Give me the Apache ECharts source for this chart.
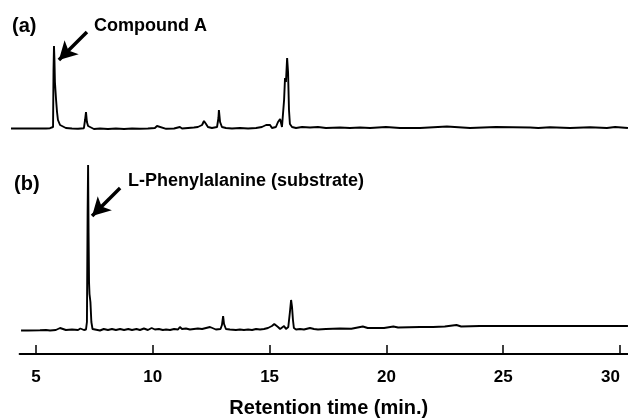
<!DOCTYPE html>
<html lang="en">
<head>
  <meta charset="UTF-8" />
  <title>Chromatograms</title>
  <script src="https://cdn.jsdelivr.net/npm/echarts@6/dist/echarts.min.js"></script>
  <style>
    body { margin: 0; padding: 0; background: #fff; }
    #main { width: 628px; height: 418px; }
  </style>
</head>
<body>
  <div id="main"></div>
  <script>
    // retention time (min) / detector response
    const traceA = [
      [3.93,1.5],[4.40,1.5],[4.91,1.5],[5.43,1.5],[5.60,1.8],[5.68,2],[5.73,3],[5.75,60],[5.77,84],[5.79,70],
      [5.81,48],[5.86,30],[5.90,18],[5.94,10],[6.03,5],[6.11,3],[6.28,2],[6.54,1.5],[6.80,1.2],[7.05,1.8],
      [7.10,10],[7.14,18],[7.18,8],[7.23,4],[7.31,2],[7.48,1],[7.74,1.5],[8.08,1],[8.42,1.5],[8.77,1],
      [9.11,1.5],[9.45,1.2],[9.79,1.5],[10.09,2],[10.18,4],[10.26,2],[10.57,1.2],[10.91,1.5],[11.16,3],[11.25,1.5],
      [11.51,2],[11.76,2.5],[11.93,3],[12.11,5],[12.19,9],[12.28,6],[12.36,3],[12.53,2],[12.75,3],[12.81,12],
      [12.83,20],[12.88,8],[12.96,3],[13.13,2],[13.39,1.5],[13.73,2],[14.08,1.5],[14.42,2],[14.67,3],[14.85,5],
      [14.93,6.5],[15.02,5],[15.10,2],[15.27,3],[15.36,8],[15.45,11],[15.53,3],[15.57,4],[15.62,30],[15.66,52],
      [15.70,48],[15.75,72],[15.79,58],[15.83,20],[15.87,6],[15.96,3],[16.13,2],[16.39,3],[16.73,2.5],[17.07,3],
      [17.41,2],[18.01,2.5],[18.44,2],[18.87,2.5],[19.30,2],[19.98,3],[20.58,2],[21.44,2],[22.59,3.5],[23.58,2],
      [24.69,3],[26.15,2.5],[26.5,2],[27.0,2.8],[27.86,2],[28.72,2.8],[29.44,2],[29.79,3],[30.34,2]
    ];
    const traceB = [
      [4.36,1.5],[4.66,1.5],[5.17,1.8],[5.43,2],[5.60,1.5],[5.85,2],[6.03,4],[6.11,2.5],[6.28,2],[6.54,2.5],
      [6.80,2],[6.90,3.5],[7.05,2],[7.14,2.5],[7.18,10],[7.21,120],[7.23,167],[7.25,100],[7.27,50],[7.29,38],
      [7.33,30],[7.37,10],[7.42,3],[7.48,2],[7.74,1.5],[7.90,3],[8.08,2],[8.25,3],[8.42,2],[8.60,3],
      [8.77,2],[8.95,3],[9.11,2],[9.30,3],[9.45,2],[9.62,3.5],[9.79,2],[9.95,4],[10.09,2.5],[10.26,3],
      [10.43,2],[10.57,2.5],[10.74,2],[10.91,3],[11.08,2.5],[11.16,5],[11.25,3],[11.42,3.5],[11.59,2.5],[11.76,3],
      [11.93,3.5],[12.11,3],[12.28,4],[12.45,5],[12.53,3],[12.70,2.5],[12.90,3],[12.96,7],[13.01,16],[13.05,8],
      [13.13,3],[13.30,2.5],[13.56,2],[13.73,2.5],[13.90,2],[14.08,2.5],[14.25,2],[14.42,3],[14.59,2.5],[14.76,3],
      [14.93,4],[15.10,6],[15.20,8],[15.27,10],[15.36,5],[15.45,3],[15.53,4],[15.62,6],[15.70,3],[15.80,5],
      [15.87,20],[15.92,32],[15.96,25],[16.00,12],[16.04,4],[16.13,2.5],[16.30,3],[16.47,2.5],[16.73,4],[16.90,3],
      [17.07,2.5],[17.41,3],[18.01,3.5],[18.50,3.2],[18.99,5.5],[19.20,4],[19.90,4],[20.30,5.5],[20.50,4.5],[21.44,5],
      [22.0,5],[22.5,5.5],[23.0,7],[23.2,5.5],[24.0,6],[25.0,6],[26.5,6],[28.0,6],[29.0,6],[30.34,6]
    ];
    const tickValues = [5, 10, 15, 20, 25, 30];
    const arrowA = [[7.18, 98], [5.98, 70]];
    const arrowB = [[8.60, 144], [7.40, 116]];

    // the scanned axis: 5 min sits at x=36, 23.36 px per minute
    const X5 = 36, PPM = 23.36, W = 628;
    function gridFor(min, max, top, height) {
      return {
        left: X5 + (min - 5) * PPM,
        right: W - (X5 + (max - 5) * PPM),
        top: top,
        height: height,
        containLabel: false,
        outerBoundsMode: 'none'
      };
    }

    const fontText = "'Liberation Sans', Arial, sans-serif";

    const hiddenX = (i, min, max) => ({
      type: 'value', gridIndex: i, min: min, max: max, show: false
    });
    const hiddenY = (i, max) => ({
      type: 'value', gridIndex: i, min: 0, max: max, show: false
    });

    function arrow(pts) {
      return {
        silent: true,
        symbol: ['none', 'arrow'],
        symbolSize: [15, 18],
        lineStyle: { color: '#000', width: 3.5, type: 'solid' },
        label: { show: false },
        data: [[{ coord: pts[0] }, { coord: pts[1] }]]
      };
    }

    const chart = echarts.init(document.getElementById('main'));
    chart.setOption({
      animation: false,
      backgroundColor: '#fff',
      grid: [
        gridFor(3.9, 30.34, 29, 101),
        gridFor(3.9, 30.34, 150, 182),
        gridFor(4.3, 30.34, 333, 21)
      ],
      xAxis: [
        hiddenX(0, 3.9, 30.34),
        hiddenX(1, 3.9, 30.34),
        {
          type: 'value', gridIndex: 2, min: 4.3, max: 30.34,
          splitLine: { show: false },
          axisLine: { lineStyle: { color: '#000', width: 2 } },
          axisTick: { inside: true, length: 9, customValues: tickValues, lineStyle: { color: '#000', width: 1.5 } },
          axisLabel: {
            customValues: tickValues, margin: 15, color: '#000', alignMaxLabel: 'right',
            fontFamily: fontText, fontWeight: 'bold', fontSize: 17
          },
          name: 'Retention time (min.)',
          nameLocation: 'middle',
          nameGap: 44,
          nameTextStyle: { color: '#000', fontFamily: fontText, fontWeight: 'bold', fontSize: 20, padding: [0, 0, 0, 10] }
        }
      ],
      yAxis: [hiddenY(0, 101), hiddenY(1, 182), hiddenY(2, 1)],
      series: [
        {
          type: 'line', xAxisIndex: 0, yAxisIndex: 0, data: traceA,
          showSymbol: false, lineStyle: { color: '#000', width: 1.9 },
          markLine: arrow(arrowA)
        },
        {
          type: 'line', xAxisIndex: 1, yAxisIndex: 1, data: traceB,
          showSymbol: false, lineStyle: { color: '#000', width: 1.9 },
          markLine: arrow(arrowB)
        }
      ],
      graphic: [
        { type: 'text', left: 12, top: 16, style: { text: '(a)', fill: '#000', font: "bold 20px " + fontText } },
        { type: 'text', left: 94, top: 17, style: { text: 'Compound A', fill: '#000', font: "bold 18px " + fontText } },
        { type: 'text', left: 14, top: 174, style: { text: '(b)', fill: '#000', font: "bold 20px " + fontText } },
        { type: 'text', left: 128, top: 172, style: { text: 'L-Phenylalanine (substrate)', fill: '#000', font: "bold 18px " + fontText } }
      ]
    });
  </script>
</body>
</html>
